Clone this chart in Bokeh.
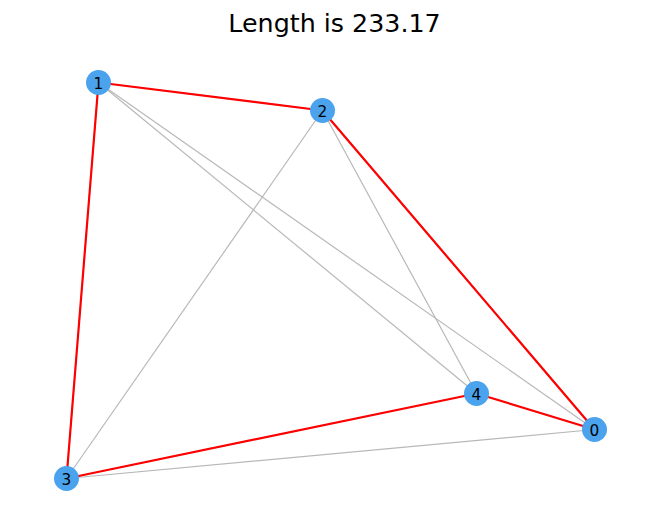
from bokeh.plotting import figure
from bokeh.models import Range1d, ColumnDataSource
from bokeh.core.properties import value
from bokeh.embed import file_html
from bokeh.resources import INLINE
from itertools import combinations

# node positions (screen-like coords, y downward)
node_ids = ["0", "1", "2", "3", "4"]
node_x = [594, 98, 322, 66, 476]
node_y = [429, 82, 110, 478, 393]
tour = [0, 2, 1, 3, 4, 0]
title_text = "Length is 233.17"

p = figure(width=644, height=514, output_backend="svg", toolbar_location=None,
           x_range=Range1d(0, 644), y_range=Range1d(514, 0),
           min_border=0, outline_line_color=None)
p.axis.visible = False
p.grid.visible = False

# all pairwise edges in grey
ex, ey = [], []
for a, b in combinations(range(len(node_ids)), 2):
    ex.append([node_x[a], node_x[b]])
    ey.append([node_y[a], node_y[b]])
p.multi_line(ex, ey, line_color="#b8b8b8", line_width=1.2)

# tour in red
p.line([node_x[i] for i in tour], [node_y[i] for i in tour],
       line_color="red", line_width=2.2)

src = ColumnDataSource(dict(x=node_x, y=node_y, label=node_ids))
p.scatter("x", "y", source=src, size=25, fill_color="#4aa3ec", line_color=None)
p.text("x", "y", text="label", source=src, text_align="center",
       text_baseline="middle", text_font=value("DejaVu Sans"),
       text_font_size="11.5pt", text_color="black")

p.text(x=[334], y=[22], text=[title_text], text_align="center",
       text_baseline="middle", text_font=value("DejaVu Sans"),
       text_font_size="19pt", text_color="black")

open("out.html", "w").write(file_html(p, INLINE))
